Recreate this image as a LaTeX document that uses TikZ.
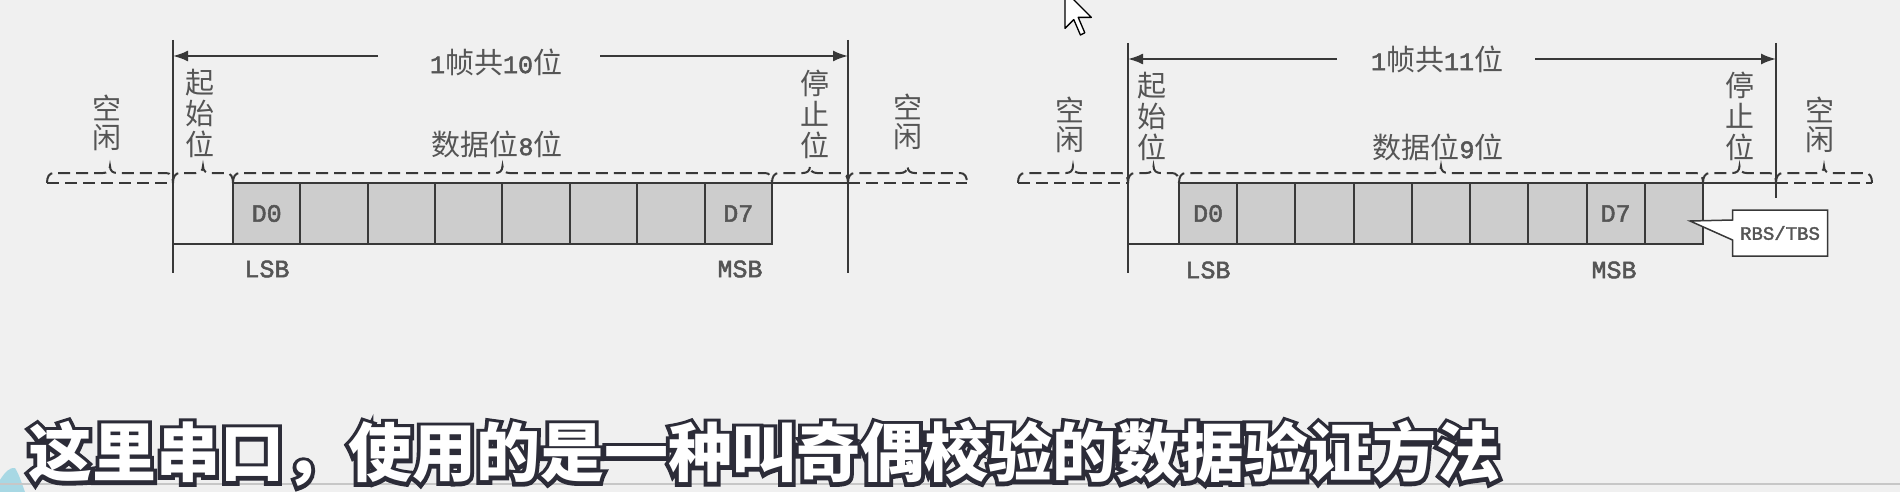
\documentclass[tikz,border=0pt]{standalone}
\usepackage{fontspec}
\usetikzlibrary{arrows.meta,shapes.callouts,calc}
\newfontfamily\cjk{Noto Sans CJK SC}
\newfontfamily\cjkout{Noto Sans CJK SC}[FakeBold=12, BoldFeatures={FakeBold=12}]
\newfontfamily\monof{Liberation Mono}[FakeBold=2]
\definecolor{bg}{HTML}{F0F0F0}
\definecolor{ln}{HTML}{383838}
\definecolor{tx}{HTML}{555555}
\definecolor{boxf}{HTML}{CDCDCD}
\definecolor{subo}{HTML}{2C2C38}
\definecolor{blob}{HTML}{A8D8E4}
\newcommand\mn[1]{{\monof\fontsize{25}{30}\selectfont #1}}
\newcommand\dbr[2]{%
  \pgfmathsetmacro\brmid{(#1+#2)/2}%
  \draw[dbrstyle] (#1,183) .. controls (#1,177) and ({#1+2},173) .. ({#1+7},173)
    -- ({\brmid-7},173) .. controls ({\brmid-3},173) and (\brmid,171) .. (\brmid,166)
    .. controls (\brmid,171) and ({\brmid+3},173) .. ({\brmid+7},173)
    -- ({#2-7},173) .. controls ({#2-2},173) and (#2,177) .. (#2,183);}
\tikzset{
 vline/.style={draw=ln, line width=2pt},
 arr/.style={draw=ln, line width=2pt, -{Latex[length=15pt,width=11pt]}},
 sig/.style={draw=ln, line width=2pt},
 dashl/.style={draw=ln, line width=2pt, dash pattern=on 12pt off 6pt},
 dbrstyle/.style={draw=ln, line width=2pt, dash pattern=on 12pt off 6pt},
 bitbox/.style={draw=ln, fill=boxf, line width=2pt, minimum height=61pt, inner sep=0pt, outer sep=0pt},
 cjklbl/.style={text=tx, font=\cjk\fontsize{29}{31}\selectfont, inner sep=0pt},
 cjkv/.style={cjklbl, align=center},
 cjkv2/.style={text=tx, font=\cjk\fontsize{29}{29}\selectfont, inner sep=0pt, align=center},
 mono/.style={text=tx, font=\monof\fontsize{25}{28}\selectfont, inner sep=0pt},
 subt/.style={font=\cjk\bfseries\fontsize{64}{64}\selectfont, inner sep=0pt},
 subtout/.style={font=\cjkout\bfseries\fontsize{64}{64}\selectfont, inner sep=0pt},
}
\begin{document}
\begin{tikzpicture}[x=1pt,y=-1pt]
\useasboundingbox (0,0) rectangle (1900,492);
\fill[bg] (0,0) rectangle (1900,492);
\fill[blob] (0,492) -- (0,480) .. controls (5,472) and (10,467) .. (15,468) .. controls (19,474) and (22,484) .. (25,492) -- cycle;
\draw[color=black!22, line width=1.5pt] (0,484) -- (1900,484);

% ================= left diagram =================
\coordinate (LvA1) at (173,40); \coordinate (LvA2) at (173,273);
\coordinate (LvB1) at (848,40); \coordinate (LvB2) at (848,273);
\draw[vline] (LvA1) -- (LvA2);
\draw[vline] (LvB1) -- (LvB2);
\node[cjklbl] (Lt) at (496,62) {\mn{1}帧共\mn{10}位};
\coordinate (La1) at (378,56); \coordinate (La2) at (600,56);
\draw[arr] (La1) -- (La1 -| LvA1);
\draw[arr] (La2) -- (La2 -| LvB1);

\coordinate (Li1) at (47,183);
\coordinate (Li2) at (967,183);
\dbr{47}{173}
\dbr{173}{233}
\dbr{233}{772}
\dbr{772}{848}
\dbr{848}{967}
\draw[dashl] (Li1) -- (LvA1 |- Li1);
\draw[dashl] (LvB1 |- Li2) -- (Li2);

\foreach \i in {0,...,7}
  \node[bitbox, minimum width=67.4pt] (Lb\i) at ({233+67.375*(\i+0.5)},213.5) {};
\node[mono] (Ld0) at (Lb0) {D0};
\node[mono] (Ld7) at (Lb7) {D7};
\draw[sig] (LvA2 |- Lb0.south) -- (Lb0.south west);
\draw[sig] (Lb7.north east) -- (LvB1 |- Lb7.north);

\node[cjkv2] (Lidle1) at (107,123) {空\\闲};
\node[cjkv] (Lstart) at (200,113) {起\\始\\位};
\node[cjklbl] (Ldata) at (497,144) {数据位\mn{8}位};
\node[cjkv] (Lstop) at (815,114) {停\\止\\位};
\node[cjkv2] (Lidle2) at (908,122) {空\\闲};
\node[mono] (Llsb) at (267,269) {LSB};
\node[mono] (Lmsb) at (740,269) {MSB};

% ================= right diagram =================
\coordinate (RvA1) at (1128,43); \coordinate (RvA2) at (1128,273);
\coordinate (RvB1) at (1776,43); \coordinate (RvB2) at (1776,198);
\draw[vline] (RvA1) -- (RvA2);
\draw[vline] (RvB1) -- (RvB2);
\node[cjklbl] (Rt) at (1437,59) {\mn{1}帧共\mn{11}位};
\coordinate (Ra1) at (1337,59); \coordinate (Ra2) at (1535,59);
\draw[arr] (Ra1) -- (Ra1 -| RvA1);
\draw[arr] (Ra2) -- (Ra2 -| RvB1);

\coordinate (Ri1) at (1018,183);
\coordinate (Ri2) at (1872,183);
\dbr{1018}{1128}
\dbr{1128}{1179}
\dbr{1179}{1703}
\dbr{1703}{1776}
\dbr{1776}{1872}
\draw[dashl] (Ri1) -- (RvA1 |- Ri1);
\draw[dashl] (RvB1 |- Ri2) -- (Ri2);

\foreach \i in {0,...,8}
  \node[bitbox, minimum width=58.2pt] (Rb\i) at ({1179+58.222*(\i+0.5)},213.5) {};
\node[mono] (Rd0) at (Rb0) {D0};
\node[mono] (Rd7) at (Rb7) {D7};
\draw[sig] (RvA2 |- Rb0.south) -- (Rb0.south west);
\draw[sig] (Rb8.north east) -- (RvB1 |- Rb8.north);

\node[cjkv2] (Ridle1) at (1070,125) {空\\闲};
\node[cjkv] (Rstart) at (1152,116) {起\\始\\位};
\node[cjklbl] (Rdata) at (1438,147) {数据位\mn{9}位};
\node[cjkv] (Rstop) at (1740,116) {停\\止\\位};
\node[cjkv2] (Ridle2) at (1820,125) {空\\闲};
\node[mono] (Rlsb) at (1208,270) {LSB};
\node[mono] (Rmsb) at (1614,270) {MSB};

\coordinate (Rp) at (1690,221);
\node[rectangle callout, draw=ln, fill=white, line width=1.5pt, minimum width=95pt, minimum height=46pt,
  callout absolute pointer={(Rp)}, callout pointer width=20pt, inner sep=0pt,
  text=tx, font=\monof\fontsize{19}{20}\selectfont] (rbs) at (1780,233) {RBS/TBS};

% ================= cursor =================
\begin{scope}[shift={(1065,-9)}, scale=2.2]
\draw[fill=white, draw=black, line width=1.3pt, line join=round]
  (0,0) -- (0,17) -- (4,13) -- (7,20) -- (9,19) -- (6,12) -- (12,12) -- cycle;
\end{scope}

% ================= subtitle =================
\node[subtout, text=subo] (subo) at (764,454) {这里串口，使用的是一种叫奇偶校验的数据验证方法};
\node[subt, text=white] (sub) at (subo) {这里串口，使用的是一种叫奇偶校验的数据验证方法};
\end{tikzpicture}
\end{document}
